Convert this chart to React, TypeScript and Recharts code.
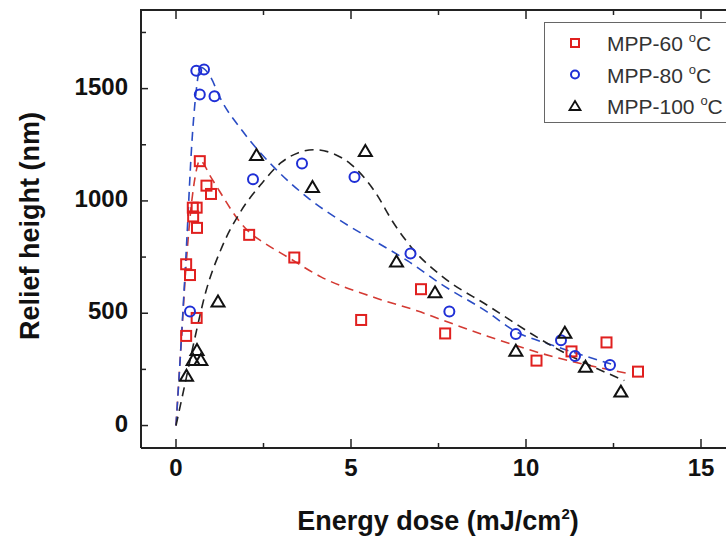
import { ComposedChart, Scatter, XAxis, YAxis, Legend, ReferenceLine } from "recharts";

const FONT = '"Liberation Sans", Arial, Helvetica, sans-serif';
const AXIS = "#222";
const RED = "#e0201f";
const BLUE = "#1f2fd6";
const BLACK = "#111";

// measured points, [dose, height]
const mpp60 = [
  [0.29, 399], [0.29, 718], [0.4, 670], [0.48, 970], [0.59, 970], [0.49, 931],
  [0.6, 880], [0.59, 479], [0.68, 1177], [0.87, 1068], [1.0, 1031], [2.09, 849],
  [3.38, 748], [5.29, 470], [7.0, 607], [7.69, 410], [10.3, 289], [11.3, 330],
  [12.3, 370], [13.2, 240],
];
const mpp80 = [
  [0.4, 508], [0.58, 1580], [0.8, 1585], [0.68, 1474], [1.1, 1466], [2.2, 1096],
  [3.6, 1167], [5.1, 1107], [6.7, 766], [7.81, 508], [9.71, 407], [11.0, 380],
  [11.4, 310], [12.4, 270],
];
const mpp100 = [
  [0.3, 222], [0.49, 292], [0.71, 292], [0.6, 336], [1.2, 552], [2.3, 1204],
  [3.9, 1062], [5.41, 1222], [6.3, 730], [7.4, 593], [9.71, 333], [11.11, 413],
  [11.7, 262], [12.71, 151],
];

// dashed guide curves
const fit60 = [
  [0, 0], [0.14, 348], [0.29, 718], [0.43, 970], [0.55, 1110], [0.68, 1180],
  [1.0, 1105], [1.24, 1044], [1.86, 900], [2.1, 860], [2.5, 815], [3.19, 750],
  [4.14, 662], [5.67, 570], [7.0, 505], [7.57, 472], [8.9, 398], [10.81, 305],
  [12.9, 232],
];
const fit80 = [
  [0, 0], [0.14, 350], [0.3, 800], [0.45, 1250], [0.57, 1480], [0.7, 1595],
  [1.0, 1548], [1.24, 1465], [1.9, 1311], [2.81, 1148], [3.76, 1015], [4.71, 911],
  [5.67, 822], [6.62, 733], [7.57, 630], [8.9, 505], [9.67, 422], [10.8, 355],
  [12.43, 274],
];
const fit100 = [
  [0, 0], [0.25, 180], [0.48, 348], [0.86, 600], [1.3, 790], [1.86, 956],
  [2.43, 1074], [3.0, 1170], [3.5, 1215], [3.95, 1228], [4.5, 1210], [5.0, 1163],
  [5.67, 1044], [6.24, 896], [6.81, 778], [7.57, 668], [8.9, 535], [10.81, 348],
  [12.81, 200],
];

const X_TICKS = [0, 2.5, 5, 7.5, 10, 12.5, 15];
const Y_TICKS = [0, 250, 500, 750, 1000, 1250, 1500, 1750];
const X_DOMAIN = [-1, 16];
const Y_DOMAIN = [-100, 1850];

const PLOT_H = 438; // plot box height, to mirror ticks on the top edge
const PLOT_W = 595; // plot box width, to mirror ticks on the right edge

const toXY = (arr: number[][]) => arr.map(([x, y]) => ({ x, y }));

const Square = (p: any) => (
  <rect x={p.cx - 5} y={p.cy - 5} width={10} height={10} fill="none" stroke={RED} strokeWidth={2} />
);
const Circle = (p: any) => (
  <circle cx={p.cx} cy={p.cy} r={5} fill="none" stroke={BLUE} strokeWidth={2} />
);
const Triangle = (p: any) => (
  <path
    d={`M${p.cx},${p.cy - 6} L${p.cx + 6.5},${p.cy + 5} L${p.cx - 6.5},${p.cy + 5} Z`}
    fill="none"
    stroke={BLACK}
    strokeWidth={2}
  />
);
const Nothing = () => <g />;

const tickText = {
  fontFamily: FONT,
  fontWeight: "bold" as const,
  fontSize: 24,
  fill: "#111",
};

// inward ticks on bottom + top edge, label only on majors
const BottomTick = ({ x, y, payload }: any) => {
  const major = payload.value % 5 === 0;
  const len = major ? 9 : 5;
  const top = y - PLOT_H;
  return (
    <g>
      <line x1={x} x2={x} y1={y} y2={y - len} stroke={AXIS} strokeWidth={1.5} />
      <line x1={x} x2={x} y1={top} y2={top + len} stroke={AXIS} strokeWidth={1.5} />
      {major && (
        <text x={x} y={y + 28} textAnchor="middle" {...tickText}>
          {payload.value}
        </text>
      )}
    </g>
  );
};
const LeftTick = ({ x, y, payload }: any) => {
  const major = payload.value % 500 === 0;
  const len = major ? 7 : 5;
  const right = x + PLOT_W;
  return (
    <g>
      <line x1={x} x2={x + len} y1={y} y2={y} stroke={AXIS} strokeWidth={1.5} />
      <line x1={right} x2={right - len - 3} y1={y} y2={y} stroke={AXIS} strokeWidth={1.5} />
      {major && (
        <text x={x - 13} y={y + 6} textAnchor="end" {...tickText}>
          {payload.value}
        </text>
      )}
    </g>
  );
};

const labelText = {
  fontFamily: FONT,
  fontWeight: "bold" as const,
  fontSize: 27,
  fill: "#111",
};

const legendRows = [
  { name: "MPP-60", marker: "square", color: RED },
  { name: "MPP-80", marker: "circle", color: BLUE },
  { name: "MPP-100", marker: "triangle", color: BLACK },
];

const LegendBox = () => (
  <svg width={200} height={101} style={{ display: "block" }}>
    <rect x={0.5} y={0.5} width={199} height={100} fill="#fff" stroke="#666" strokeWidth={1} />
    {legendRows.map((r, i) => {
      const cy = 21 + i * 31.5;
      const cx = 31;
      return (
        <g key={r.name}>
          {r.marker === "square" && (
            <rect x={cx - 4} y={cy - 4} width={8} height={8} fill="none" stroke={r.color} strokeWidth={2} />
          )}
          {r.marker === "circle" && (
            <circle cx={cx} cy={cy} r={4} fill="none" stroke={r.color} strokeWidth={2} />
          )}
          {r.marker === "triangle" && (
            <path
              d={`M${cx},${cy - 5} L${cx + 5.5},${cy + 4} L${cx - 5.5},${cy + 4} Z`}
              fill="none"
              stroke={r.color}
              strokeWidth={1.8}
            />
          )}
          <text x={63} y={cy + 8} fontFamily={FONT} fontSize={21} fill="#333">
            {r.name + " "}
            <tspan dy={-9} fontSize={13}>o</tspan>
            <tspan dy={9}>C</tspan>
          </text>
        </g>
      );
    })}
  </svg>
);

const dash = { strokeWidth: 1.6, strokeDasharray: "9 6" };

export default function App() {
  return (
    <div style={{ position: "absolute", left: 0, top: 0, width: 726, height: 538, overflow: "hidden" }}>
      <ComposedChart width={760} height={538} margin={{ top: 10, right: 24, bottom: 0, left: 0 }}>
        <XAxis
          dataKey="x"
          type="number"
          domain={X_DOMAIN}
          ticks={X_TICKS}
          interval={0}
          allowDataOverflow
          height={90}
          tickSize={0}
          tickMargin={0}
          tickLine={false}
          axisLine={{ stroke: AXIS, strokeWidth: 2 }}
          tick={BottomTick}
          label={() => (
            <text x={438} y={530} textAnchor="middle" {...labelText}>
              Energy dose (mJ/cm
              <tspan dy={-11} fontSize={15}>2</tspan>
              <tspan dy={11}>)</tspan>
            </text>
          )}
        />
        <YAxis
          dataKey="y"
          type="number"
          domain={Y_DOMAIN}
          ticks={Y_TICKS}
          interval={0}
          allowDataOverflow
          width={141}
          tickSize={0}
          tickMargin={0}
          tickLine={false}
          axisLine={{ stroke: AXIS, strokeWidth: 2 }}
          tick={LeftTick}
          label={() => (
            <text
              x={30}
              y={226}
              transform="rotate(-90 30 226)"
              textAnchor="middle"
              dominantBaseline="central"
              {...labelText}
            >
              Relief height (nm)
            </text>
          )}
        />

        {/* frame: top and right edges */}
        <ReferenceLine y={1850} stroke="#222" strokeWidth={2} ifOverflow="visible" />
        <ReferenceLine x={16} stroke="#222" strokeWidth={2} ifOverflow="visible" />

        <Scatter
          data={toXY(fit60)}
          line={{ stroke: "#d43a33", ...dash }}
          lineJointType="monotoneX"
          shape={Nothing}
          legendType="none"
          isAnimationActive={false}
        />
        <Scatter
          data={toXY(fit80)}
          line={{ stroke: "#2a4cc4", ...dash }}
          lineJointType="monotoneX"
          shape={Nothing}
          legendType="none"
          isAnimationActive={false}
        />
        <Scatter
          data={toXY(fit100)}
          line={{ stroke: "#222", ...dash }}
          lineJointType="monotoneX"
          shape={Nothing}
          legendType="none"
          isAnimationActive={false}
        />

        <Scatter name="MPP-60 °C" data={toXY(mpp60)} shape={Square} isAnimationActive={false} />
        <Scatter name="MPP-80 °C" data={toXY(mpp80)} shape={Circle} isAnimationActive={false} />
        <Scatter name="MPP-100 °C" data={toXY(mpp100)} shape={Triangle} isAnimationActive={false} />

        <Legend
          layout="vertical"
          align="center"
          verticalAlign="middle"
          wrapperStyle={{ left: 544, top: 22, width: 200, height: 101 }}
          content={() => <LegendBox />}
        />
      </ComposedChart>
      {/* fallback top edge of the frame */}
      <div style={{ position: "absolute", left: 140, top: 9, width: 600, height: 2, background: AXIS }} />
    </div>
  );
}
